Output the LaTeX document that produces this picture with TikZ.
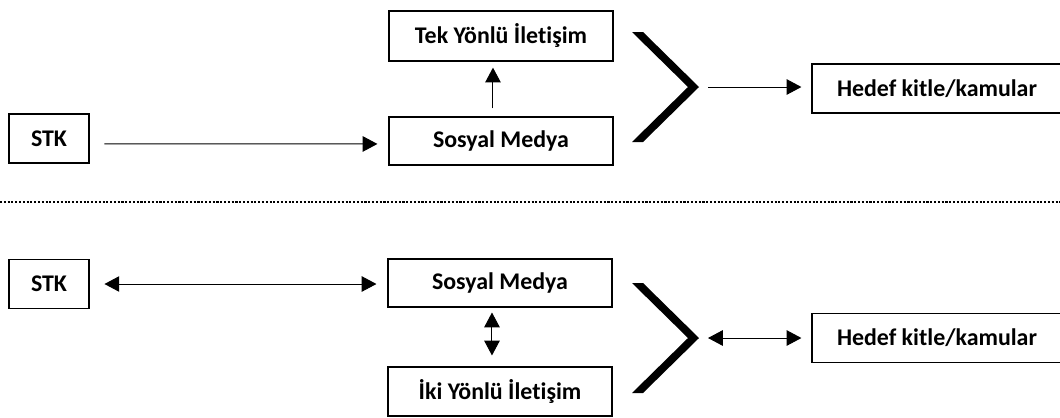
\documentclass[tikz,border=0pt]{standalone}
\usepackage{fontspec}
\setmainfont{Carlito}[Ligatures=NoCommon]
\usetikzlibrary{arrows.meta}

\begin{document}
\begin{tikzpicture}[x=0.025cm,y=-0.025cm,
    kutu/.style={draw,line width=0.8pt,inner sep=0pt,minimum height=1.225cm,font=\fontsize{17}{20}\selectfont\bfseries},
    ok/.style={line width=0.7pt,-{Triangle[length=10.5pt,width=11pt]}},
    ciftok/.style={line width=0.7pt,{Triangle[length=10.5pt,width=11pt]}-{Triangle[length=10.5pt,width=11pt]}}]
    \useasboundingbox (0,0) rectangle (1060,417);

    % Tek yönlü (üst)
    \node[kutu,minimum width=2cm] (stk1) at (49,138.5) {STK};
    \node[kutu,minimum width=5.6cm,minimum height=1.2cm] (sm1) at (501,141) {Sosyal Medya};
    \node[kutu,minimum width=5.6cm,minimum height=1.25cm] (tek) at (501,36) {Tek Yönlü İletişim};
    \node[kutu,minimum width=6.25cm] (hedef1) at (937,88.5) {Hedef kitle/kamular};
    \fill (632,32) -- (643,32) -- (699,87) -- (643,142) -- (632,142) -- (688,87) -- cycle;
    \coordinate (uc1) at (699,87);

    \draw[ok,shorten <=10.6pt,shorten >=7.8pt] ([yshift=-3.9pt]stk1.east) -- ([yshift=-2.1pt]sm1.west);
    \draw[ok,shorten <=5.7pt,shorten >=4.3pt] ([xshift=-5.7pt]sm1.north) -- ([xshift=-5.7pt]tek.south);
    \draw[ok,shorten <=6.4pt,shorten >=7.1pt] (uc1) -- (uc1 -| hedef1.west);

    % Ayırıcı
    \draw[line width=1.6pt,dash pattern=on 1.5pt off 1.2pt] (0,202) -- (1060,202);

    % İki yönlü (alt)
    \node[kutu,minimum width=2cm] (stk2) at (49,284) {STK};
    \node[kutu,minimum width=5.6cm,minimum height=1.2cm] (sm2) at (500,283) {Sosyal Medya};
    \node[kutu,minimum width=5.6cm] (iki) at (500,391.5) {İki Yönlü İletişim};
    \node[kutu,minimum width=6.25cm] (hedef2) at (937,338) {Hedef kitle/kamular};
    \fill (632,283) -- (643,283) -- (699,338) -- (643,393) -- (632,393) -- (688,338) -- cycle;
    \coordinate (uc2) at (699,338);

    \draw[ciftok,shorten <=10.6pt,shorten >=7.8pt] (stk2.east) -- (stk2.east -| sm2.west);
    \draw[ciftok,shorten <=3.5pt,shorten >=7.8pt] ([xshift=-5.7pt]sm2.south) -- ([xshift=-5.7pt]iki.north);
    \draw[ciftok,shorten <=6.4pt,shorten >=7.1pt] (uc2) -- (uc2 -| hedef2.west);
\end{tikzpicture}
\end{document}
